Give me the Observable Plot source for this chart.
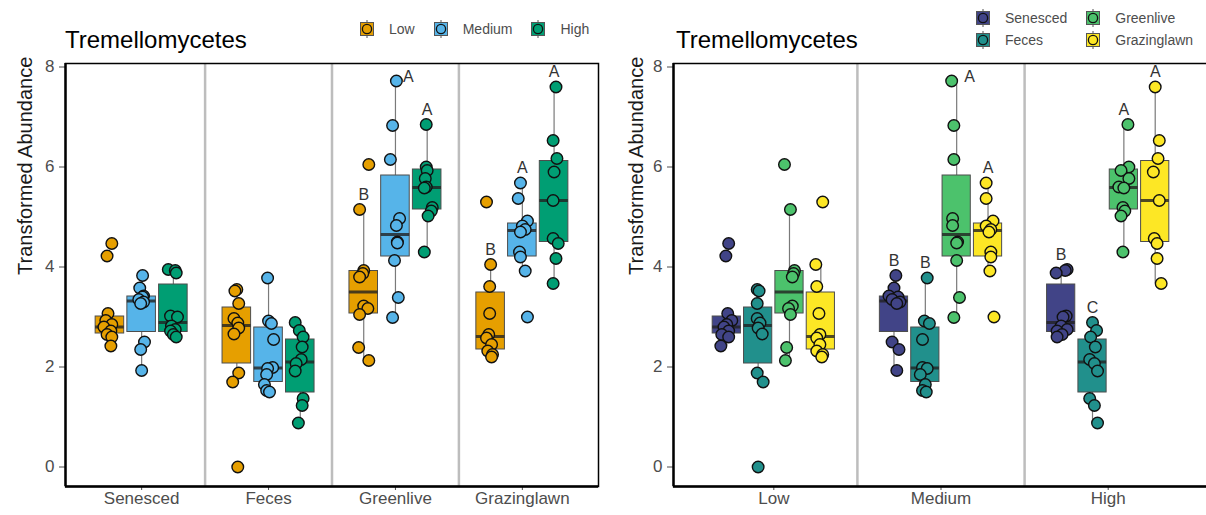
<!DOCTYPE html>
<html>
<head>
<meta charset="utf-8">
<script src="https://cdn.jsdelivr.net/npm/d3@7"></script>
<script src="https://cdn.jsdelivr.net/npm/@observablehq/plot@0.6"></script>
<style>
  html, body { margin: 0; padding: 0; background: #fff; }
  #chart { position: relative; width: 1206px; height: 515px; overflow: hidden; background: #fff;
           font-family: "Liberation Sans", Arial, sans-serif; }
  #chart svg.panel { position: absolute; top: 0; }
  .title { position: absolute; top: 28px; font-size: 24px; line-height: 24px; color: #000; white-space: nowrap; }
  .legend { position: absolute; font-size: 14px; line-height: 18px; color: #4d4d4d; }
  .legend .item { display: flex; align-items: center; }
  .legend .item svg { display: block; margin-right: 14px; }
</style>
</head>
<body>
<div id="chart"></div>
<script>
// Categories
const substrates = ["Senesced", "Feces", "Greenlive", "Grazinglawn"];
const levels = ["Low", "Medium", "High"];
const levelColors = ["#E69F00", "#56B4E9", "#009E73"];
const substrateColors = ["#414487", "#21908C", "#4CC26C", "#FDE725"];
const yTicks = [0, 2, 4, 6, 8];
const panelTitle = "Tremellomycetes";
const yTitle = "Transformed Abundance";

// Transformed abundance of every sample, by substrate and grazing level
const senescedLow       = [4.47, 4.22, 3.07, 2.93, 2.85, 2.80, 2.72, 2.65, 2.60, 2.42];
const senescedMedium    = [3.83, 3.58, 3.42, 3.40, 3.35, 3.30, 3.27, 2.50, 2.35, 1.93];
const senescedHigh      = [3.95, 3.93, 3.88, 3.02, 3.00, 2.82, 2.75, 2.72, 2.65, 2.60];
const fecesLow          = [3.55, 3.52, 3.27, 2.97, 2.88, 2.78, 2.66, 1.88, 1.70, 0.00];
const fecesMedium       = [3.78, 2.92, 2.87, 2.55, 1.99, 1.97, 1.85, 1.65, 1.53, 1.50];
const fecesHigh         = [2.89, 2.73, 2.60, 2.40, 2.15, 2.07, 1.92, 1.37, 1.23, 0.88];
const greenliveLow      = [6.05, 5.15, 3.93, 3.87, 3.80, 3.22, 3.17, 3.05, 2.39, 2.13];
const greenliveMedium   = [7.72, 6.83, 6.15, 4.97, 4.83, 4.50, 4.48, 4.13, 3.39, 2.99];
const greenliveHigh     = [6.85, 6.00, 5.93, 5.77, 5.60, 5.58, 5.19, 5.12, 5.02, 4.30];
const grazinglawnLow    = [5.30, 4.05, 3.61, 3.07, 2.65, 2.58, 2.45, 2.32, 2.25, 2.20];
const grazinglawnMedium = [5.68, 5.37, 4.92, 4.82, 4.75, 4.70, 4.30, 4.20, 3.92, 3.00];
const grazinglawnHigh   = [7.60, 6.53, 6.17, 5.90, 5.33, 4.57, 4.47, 4.17, 3.67];

// Box summaries, substrate-major order (Senesced Low, Senesced Medium, ... Grazinglawn High)
const whiskerLow  = [2.42, 1.93, 2.60, 1.70, 1.50, 0.88, 2.13, 2.99, 4.30, 2.20, 3.92, 3.67];
const quartile1   = [2.67, 2.70, 2.70, 2.07, 1.70, 1.49, 3.07, 4.21, 5.15, 2.35, 4.21, 4.50];
const medians     = [2.80, 3.32, 2.89, 2.83, 1.98, 2.10, 3.50, 4.65, 5.59, 2.61, 4.73, 5.33];
const quartile3   = [3.01, 3.41, 3.65, 3.19, 2.79, 2.55, 3.92, 5.83, 5.95, 3.49, 4.87, 6.12];
const whiskerHigh = [3.07, 3.83, 3.95, 3.55, 3.78, 2.89, 5.15, 7.72, 6.85, 4.05, 5.68, 7.60];

// Horizontal jitter of each sample, as a share of one dodge slot (same order as above)
const jitterBySubstrate = [
  [0.06, -0.09, -0.06, -0.13, 0.06, -0.19, 0.03, -0.09, 0.06, 0.03],
  [0.03, -0.06, 0.06, 0.03, -0.09, 0.06, -0.03, 0.09, -0.03, 0],
  [-0.16, 0.06, 0.09, -0.09, 0.13, -0.06, 0.06, -0.09, 0, 0.09],
  [0, -0.06, 0.06, -0.09, 0.03, 0.06, -0.09, 0.06, -0.13, 0.03],
  [-0.03, 0, 0.09, 0.16, 0.13, -0.03, -0.06, -0.13, -0.06, 0.03],
  [-0.16, -0.03, 0.09, 0.06, 0.03, -0.13, -0.16, 0.09, 0.06, -0.06],
  [0.16, -0.13, 0, -0.03, -0.13, 0, 0.13, -0.13, -0.16, 0.16],
  [0.03, -0.09, -0.16, 0.13, 0.03, 0.06, 0.06, -0.03, 0.09, -0.09],
  [-0.03, -0.03, 0, -0.06, -0.03, -0.09, 0.16, 0.13, 0.03, -0.09],
  [-0.13, 0, -0.03, -0.03, -0.06, -0.13, 0.03, -0.09, 0.06, 0.03],
  [-0.06, -0.13, 0.16, 0, 0.09, -0.06, -0.09, -0.06, 0.09, 0.16],
  [0.06, -0.03, 0.09, 0, -0.03, -0.03, 0.13, 0.06, -0.03]
];
const jitterByLevel = [
  [0.06, -0.03, 0.03, 0.16, 0, -0.09, 0.06, -0.16, 0.06, -0.19],
  [0.06, 0, -0.16, 0.13, -0.06, 0.19, 0.09, -0.06, 0.16, 0.09],
  [0.19, 0.13, -0.16, 0.16, 0.06, 0, 0.19, -0.13, 0.03, -0.13],
  [-0.03, 0.03, -0.03, -0.03, 0.06, 0, 0.13, -0.03, 0.16, 0],
  [0.06, -0.03, 0.13, -0.09, -0.09, 0.06, -0.16, 0, -0.09, 0.03],
  [0, 0.13, -0.06, 0.09, -0.09, 0.06, 0.16, -0.09, 0.06, 0.16],
  [-0.16, 0.03, 0.16, 0.13, 0.09, 0.09, -0.03, 0.03, -0.09, -0.13],
  [-0.16, -0.09, -0.09, -0.13, -0.13, 0.03, 0, 0, 0.09, -0.09],
  [0.13, 0.16, -0.09, 0.16, -0.16, 0, -0.03, 0.03, -0.09, -0.03],
  [0.06, -0.16, -0.13, -0.06, -0.03, -0.13, -0.03, -0.13, 0.06, 0.03],
  [-0.06, -0.06, 0.16, -0.06, 0.09, 0.03, 0.09, 0.09, 0.06, 0.19],
  [0, 0.13, 0.09, -0.06, 0.13, -0.03, 0.06, 0.06, 0.19]
];

// Significance letters: levels compared within a substrate, and substrates within a level
const lettersBySubstrate = [
  ["Greenlive", "Low", "B"], ["Greenlive", "Medium", "A"], ["Greenlive", "High", "A"],
  ["Grazinglawn", "Low", "B"], ["Grazinglawn", "Medium", "A"], ["Grazinglawn", "High", "A"]
];
const lettersByLevel = [
  ["Senesced", "Medium", "B"], ["Feces", "Medium", "B"], ["Greenlive", "Medium", "A"], ["Grazinglawn", "Medium", "A"],
  ["Senesced", "High", "B"], ["Feces", "High", "C"], ["Greenlive", "High", "A"], ["Grazinglawn", "High", "A"]
];

const samples = [
  senescedLow, senescedMedium, senescedHigh,
  fecesLow, fecesMedium, fecesHigh,
  greenliveLow, greenliveMedium, greenliveHigh,
  grazinglawnLow, grazinglawnMedium, grazinglawnHigh
];

// One record per substrate × level
const groups = [];
substrates.forEach((substrate, si) => levels.forEach((level, li) => {
  const g = si * levels.length + li;
  groups.push({
    g, substrate, level, values: samples[g],
    lo: whiskerLow[g], q1: quartile1[g], med: medians[g], q3: quartile3[g], hi: whiskerHigh[g]
  });
}));

const FONT = '"Liberation Sans", Arial, sans-serif';
const yDomain = [-0.39, 8.07];

function panel({outer, outerKey, inner, innerKey, colors, jitter, letters, width, marginLeft, marginRight, titleDx}) {
  const k = inner.length;
  const slot = 0.75 / k;             // dodge width shared by the boxes of one group
  const half = slot * 0.9 / 2;       // half of one box width
  const xDomain = [0.4, outer.length + 0.6];
  const boxes = groups.map(d => ({
    ...d,
    key: d[innerKey],
    x: outer.indexOf(d[outerKey]) + 1 + (inner.indexOf(d[innerKey]) - (k - 1) / 2) * slot
  }));
  const points = boxes.flatMap(b => b.values.map((v, i) => ({x: b.x + jitter[b.g][i] * slot, v, key: b.key})));
  const separators = d3.range(1, outer.length).map(i => i + 0.5);
  const top = d3.max(yTicks);
  const labels = letters.map(([substrate, level, letter]) => {
    const b = boxes.find(d => d.substrate === substrate && d.level === level);
    const above = b.hi + 0.3;
    return above > top ? {x: b.x, y: b.hi + 0.08, letter, beside: true} : {x: b.x, y: above, letter, beside: false};
  });

  return Plot.plot({
    width, height: 515,
    marginTop: 63, marginBottom: 29, marginLeft, marginRight,
    style: {fontFamily: FONT, fontSize: "17px", color: "#4d4d4d", background: "transparent", overflow: "visible"},
    x: {domain: xDomain, ticks: outer.map((_, i) => i + 1), tickFormat: t => outer[t - 1], tickSize: 4, tickPadding: 1, label: null},
    y: {domain: yDomain, ticks: yTicks, tickSize: 6, tickPadding: 5, label: null},
    color: {domain: inner, range: colors},
    marks: [
      Plot.ruleX(separators, {x: d => d, stroke: "#bdbdbd", strokeWidth: 2.5}),
      Plot.ruleX(boxes, {x: "x", y1: "lo", y2: "hi", stroke: "#7a7a7a", strokeWidth: 1.2}),
      Plot.rect(boxes, {x1: d => d.x - half, x2: d => d.x + half, y1: "q1", y2: "q3", fill: "key", stroke: "#4d4d4d", strokeWidth: 1}),
      Plot.ruleY(boxes, {y: "med", x1: d => d.x - half, x2: d => d.x + half, stroke: "#222", strokeOpacity: 0.8, strokeWidth: 3}),
      Plot.dot(points, {x: "x", y: "v", r: 5.8, fill: "key", stroke: "#111", strokeWidth: 1.4}),
      Plot.text(labels.filter(d => !d.beside), {x: "x", y: "y", text: "letter", fontSize: 16, fill: "#333"}),
      Plot.text(labels.filter(d => d.beside), {x: "x", y: "y", text: "letter", fontSize: 16, fill: "#333", dx: 13}),
      Plot.frame({stroke: "#000", strokeWidth: 1.5}),
      Plot.ruleX([xDomain[0]], {stroke: "#000", strokeWidth: 2.4}),
      Plot.ruleY([yDomain[0]], {stroke: "#000", strokeWidth: 2.6}),
      Plot.text([yTitle], {text: d => d, frameAnchor: "left", rotate: -90, dx: titleDx, fontSize: 20, fill: "#1a1a1a"})
    ]
  });
}

function keySwatch(color) {
  return `<svg width="16" height="18" viewBox="0 0 16 18">
    <line x1="8" x2="8" y1="0" y2="18" stroke="#555" stroke-width="1"/>
    <rect x="1.5" y="2.5" width="13" height="13" fill="${color}" stroke="#555" stroke-width="1"/>
    <circle cx="8" cy="9" r="4.6" fill="${color}" stroke="#111" stroke-width="1.3"/>
  </svg>`;
}

const chart = document.getElementById("chart");

const left = panel({
  outer: substrates, outerKey: "substrate", inner: levels, innerKey: "level",
  colors: levelColors, jitter: jitterBySubstrate, letters: lettersBySubstrate,
  width: 603, marginLeft: 65, marginRight: 5, titleDx: -40
});
left.classList.add("panel");
left.style.left = "0px";
chart.appendChild(left);

const right = panel({
  outer: levels, outerKey: "level", inner: substrates, innerKey: "substrate",
  colors: substrateColors, jitter: jitterByLevel, letters: lettersByLevel,
  width: 606, marginLeft: 70, marginRight: 1, titleDx: -37
});
right.classList.add("panel");
right.style.left = "603px";
chart.appendChild(right);

// Titles
[65, 676].forEach(x => {
  const t = document.createElement("div");
  t.className = "title";
  t.style.left = x + "px";
  t.textContent = panelTitle;
  chart.appendChild(t);
});

// Legend of grazing levels (one row)
const legendLevels = document.createElement("div");
legendLevels.className = "legend";
legendLevels.style.cssText = "left:359px; top:20px; display:flex; gap:18px;";
levels.forEach((l, i) => {
  const item = document.createElement("div");
  item.className = "item";
  item.innerHTML = keySwatch(levelColors[i]) + `<span>${l}</span>`;
  legendLevels.appendChild(item);
});
chart.appendChild(legendLevels);

// Legend of substrates (two rows, filled by column)
const legendSubstrates = document.createElement("div");
legendSubstrates.className = "legend";
legendSubstrates.style.cssText = "left:975px; top:9px; display:grid; grid-template-rows:auto auto; grid-auto-flow:column; column-gap:18px; row-gap:4px;";
substrates.forEach((s, i) => {
  const item = document.createElement("div");
  item.className = "item";
  item.innerHTML = keySwatch(substrateColors[i]) + `<span>${s}</span>`;
  legendSubstrates.appendChild(item);
});
chart.appendChild(legendSubstrates);
</script>
</body>
</html>
